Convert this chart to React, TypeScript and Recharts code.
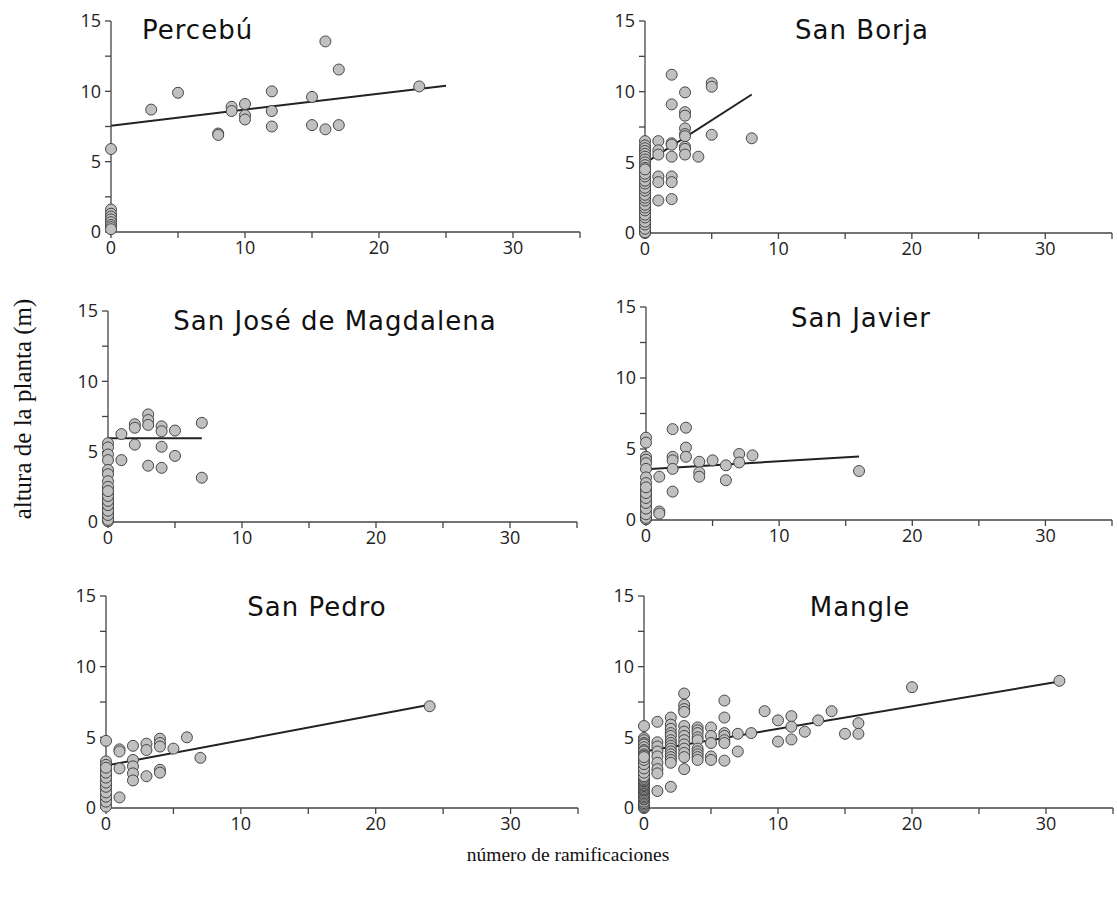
import { ReferenceLine, Scatter, ScatterChart, XAxis, YAxis } from 'recharts';

// points grouped by number of branches: [x, heights at that x]
type Group = [number, number[]];

const percebu: Group[] = [
  [0, [5.9, 1.6, 1.3, 1.1, 0.9, 0.7, 0.5, 0.35, 0.2]],
  [3, [8.7]],
  [5, [9.9]],
  [8, [7.0, 6.9]],
  [9, [8.9, 8.6]],
  [10, [9.1, 8.3, 8.0]],
  [12, [10.0, 8.6, 7.5]],
  [15, [9.6, 7.6]],
  [16, [13.55, 7.3]],
  [17, [11.55, 7.6]],
  [23, [10.35]],
];

const sanBorja: Group[] = [
  [0, [6.5, 6.2, 6.0, 5.8, 5.6, 5.4, 5.2, 5.0, 4.8, 4.6, 4.4, 4.3, 4.1, 3.9, 3.8, 3.6, 3.4, 3.3, 3.1, 2.9, 2.8, 2.6, 2.4, 2.2, 2.1, 1.9, 1.7, 1.5, 1.4, 1.2, 1.0, 0.9, 0.7, 0.5, 0.4, 0.2, 0.1, 0, 0.05, 0.3, 0.6, 0.8, 1.1, 1.3, 1.6, 1.8, 2.0, 2.3, 2.5, 2.7, 3.0, 3.2, 3.5, 3.7, 4.0, 4.2, 4.5]],
  [1, [6.5, 5.85, 5.55, 4.0, 3.6, 2.3]],
  [2, [11.2, 9.1, 6.35, 6.25, 5.4, 4.0, 3.6, 2.4]],
  [3, [9.95, 8.55, 8.3, 7.4, 7.0, 6.85, 6.1, 5.95, 5.55]],
  [4, [5.4]],
  [5, [10.6, 10.35, 6.95]],
  [8, [6.7]],
];

const sanJose: Group[] = [
  [0, [5.6, 5.3, 4.8, 4.4, 3.7, 3.4, 2.9, 2.5, 2.0, 1.7, 1.35, 1.0, 0.65, 0.3, 0.05, 0.15, 0.5, 0.8, 1.2, 1.5, 1.85, 2.2]],
  [1, [6.25, 4.4]],
  [2, [6.95, 6.7, 5.5]],
  [3, [7.65, 7.25, 6.9, 4.0]],
  [4, [6.8, 6.45, 5.35, 3.85]],
  [5, [6.5, 4.7]],
  [7, [7.05, 3.15]],
];

const sanJavier: Group[] = [
  [0, [5.8, 5.45, 4.45, 4.25, 4.0, 3.6, 3.0, 2.6, 2.1, 1.75, 1.4, 1.0, 0.6, 0.25, 0.05, 0.15, 0.4, 0.8, 1.2, 1.55, 1.9, 2.3]],
  [1, [3.05, 0.6, 0.45]],
  [2, [6.4, 4.45, 4.2, 3.6, 2.0]],
  [3, [6.5, 5.1, 4.45]],
  [4, [4.1, 3.35, 3.05]],
  [5, [4.2]],
  [6, [3.85, 2.8]],
  [7, [4.65, 4.05]],
  [8, [4.55]],
  [16, [3.45]],
];

const sanPedro: Group[] = [
  [0, [4.75, 3.3, 3.05, 2.7, 2.35, 2.0, 1.65, 1.3, 0.95, 0.6, 0.25, 0.1, 0.45, 0.8, 1.1, 1.5, 1.8, 2.15, 2.5, 2.85]],
  [1, [4.15, 4.0, 2.8, 0.75]],
  [2, [4.4, 3.4, 2.95, 2.45, 1.95]],
  [3, [4.55, 4.1, 2.25]],
  [4, [4.9, 4.6, 4.35, 2.7, 2.5]],
  [5, [4.2]],
  [6, [5.0]],
  [7, [3.55]],
  [24, [7.2]],
];

const mangle: Group[] = [
  [0, [5.8, 4.95, 4.8, 4.6, 4.5, 4.3, 4.1, 4.0, 3.8, 3.7, 3.5, 3.3, 3.2, 3.0, 2.9, 2.7, 2.6, 2.4, 2.3, 2.1, 2.0, 1.8, 1.7, 1.5, 1.4, 1.2, 1.1, 0.9, 0.8, 0.7, 0.5, 0.4, 0.3, 0.2, 0.1, 0, 0.05, 0.15, 0.25, 0.35, 0.45, 0.6, 0.65, 0.75, 0.85, 0.95, 1.05, 1.15, 1.25, 1.3, 1.35, 1.45, 1.55, 1.6, 1.65, 1.75, 1.85, 1.9, 1.95, 2.05, 2.15, 2.25, 2.5, 2.8, 3.1, 3.4, 3.6]],
  [1, [6.1, 4.65, 4.35, 4.0, 3.65, 3.2, 2.75, 2.45, 1.2]],
  [2, [6.4, 5.9, 5.6, 5.3, 5.1, 4.8, 4.6, 4.4, 4.2, 4.0, 3.8, 3.6, 3.4, 3.2, 1.5]],
  [3, [8.1, 7.3, 7.0, 6.8, 5.8, 5.4, 5.1, 4.8, 4.5, 4.2, 3.9, 3.6, 2.75]],
  [4, [5.7, 5.5, 5.3, 5.0, 4.8, 4.2, 4.0, 3.8, 3.6, 3.4]],
  [5, [5.7, 5.1, 4.6, 3.65, 3.4]],
  [6, [7.6, 6.4, 5.3, 5.1, 4.8, 4.6, 3.35]],
  [7, [5.25, 4.0]],
  [8, [5.3]],
  [9, [6.85]],
  [10, [6.2, 4.7]],
  [11, [6.5, 5.75, 4.85]],
  [12, [5.4]],
  [13, [6.2]],
  [14, [6.85]],
  [15, [5.25]],
  [16, [6.0, 5.25]],
  [20, [8.55]],
  [31, [9.0]],
];

// trend line end points [x, y]
const trendPercebu = [[0, 7.56], [25, 10.4]];
const trendSanBorja = [[0, 4.95], [8, 9.8]];
const trendSanJose = [[0, 5.95], [7, 5.95]];
const trendSanJavier = [[0, 3.57], [16, 4.47]];
const trendSanPedro = [[0, 3.0], [24, 7.3]];
const trendMangle = [[0, 4.0], [31, 8.95]];

const titles = ['Percebú', 'San Borja', 'San José de Magdalena', 'San Javier', 'San Pedro', 'Mangle'];
const xTicks = [0, 5, 10, 15, 20, 25, 30, 35];
const yTicks = [0, 2.5, 5, 7.5, 10, 12.5, 15];

const flatten = (g: Group[]) => g.flatMap(([x, ys]) => ys.map((y) => ({ x, y })));

const panels = [
  { data: percebu, trend: trendPercebu, title: titles[0], left: 111, top: 21, w: 469, h: 211, tx: 142, ty: 15, align: 'left' },
  { data: sanBorja, trend: trendSanBorja, title: titles[1], left: 645, top: 21, w: 467, h: 212, tx: 862, ty: 15, align: 'center' },
  { data: sanJose, trend: trendSanJose, title: titles[2], left: 108, top: 311, w: 469, h: 211, tx: 335, ty: 306, align: 'center' },
  { data: sanJavier, trend: trendSanJavier, title: titles[3], left: 646, top: 307, w: 466, h: 213, tx: 861, ty: 303, align: 'center' },
  { data: sanPedro, trend: trendSanPedro, title: titles[4], left: 106, top: 596, w: 472, h: 212, tx: 317, ty: 592, align: 'center' },
  { data: mangle, trend: trendMangle, title: titles[5], left: 644, top: 596, w: 469, h: 212, tx: 860, ty: 592, align: 'center' },
];

const tickStyle = { fontSize: 18, fill: '#222', fontFamily: 'Open Sans' };
const axisColor = '#444';

const Dot = (props: any) => (
  <circle cx={props.cx} cy={props.cy} r={5.5} fill="#c0c0c0" stroke="#474747" strokeWidth={1} />
);

function Panel({ p }: { p: (typeof panels)[number] }) {
  const W = 50 + p.w + 10;
  const H = 15 + p.h + 35;
  const [[x1, y1], [x2, y2]] = p.trend;
  return (
    <>
      <div style={{ position: 'absolute', left: p.left - 50, top: p.top - 15 }}>
        <ScatterChart width={W} height={H} margin={{ top: 15, right: 10, bottom: 0, left: 0 }}>
          <XAxis
            type="number"
            dataKey="x"
            domain={[0, 35]}
            ticks={xTicks}
            tickFormatter={(v) => (v % 10 === 0 ? String(v) : '')}
            height={35}
            tickSize={6}
            tickMargin={3}
            tick={tickStyle}
            stroke={axisColor}
            strokeWidth={1.3}
            interval={0}
          />
          <YAxis
            type="number"
            dataKey="y"
            domain={[0, 15]}
            ticks={yTicks}
            tickFormatter={(v) => (v % 5 === 0 ? String(v) : '')}
            width={50}
            tickSize={6}
            tickMargin={4}
            tick={tickStyle}
            stroke={axisColor}
            strokeWidth={1.3}
            interval={0}
          />
          <ReferenceLine
            segment={[{ x: x1, y: y1 }, { x: x2, y: y2 }]}
            stroke="#222"
            strokeWidth={2}
            ifOverflow="extendDomain"
          />
          <Scatter data={flatten(p.data)} shape={Dot} isAnimationActive={false} />
        </ScatterChart>
      </div>
      <div
        style={{
          position: 'absolute',
          left: p.align === 'left' ? p.tx : p.tx - 200,
          width: p.align === 'left' ? undefined : 400,
          top: p.ty,
          textAlign: p.align as any,
          fontFamily: 'DejaVu Sans',
          fontSize: 26,
          letterSpacing: 1,
          color: '#111',
          whiteSpace: 'nowrap',
        }}
      >
        {p.title}
      </div>
    </>
  );
}

export default function App() {
  return (
    <div style={{ position: 'absolute', left: 0, top: 0, width: 1117, height: 897, background: '#fff' }}>
      {panels.map((p) => (
        <Panel key={p.title} p={p} />
      ))}
      <div
        style={{
          position: 'absolute',
          left: 23,
          top: 409,
          transform: 'translate(-50%, -50%) rotate(-90deg)',
          fontFamily: 'Liberation Serif',
          fontSize: 25,
          color: '#111',
          whiteSpace: 'nowrap',
        }}
      >
        altura de la planta (m)
      </div>
      <div
        style={{
          position: 'absolute',
          left: 568,
          top: 855,
          transform: 'translate(-50%, -50%)',
          fontFamily: 'Liberation Serif',
          fontSize: 19.5,
          color: '#111',
          whiteSpace: 'nowrap',
        }}
      >
        número de ramificaciones
      </div>
    </div>
  );
}
